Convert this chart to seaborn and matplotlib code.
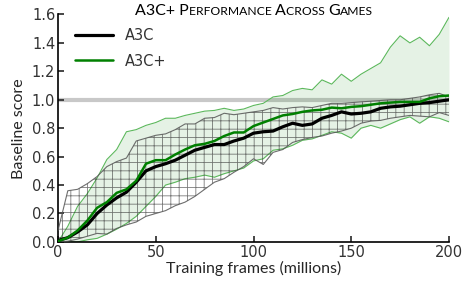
import numpy as np
import pandas as pd
import matplotlib
matplotlib.use('Agg')
import matplotlib.pyplot as plt
import seaborn as sns
from matplotlib.offsetbox import TextArea, HPacker, AnchoredOffsetbox

# Training frames (millions), sampled every 5M
frames = np.arange(0, 201, 5)

a3c_mean = [0.01, 0.03, 0.07, 0.12, 0.20, 0.26, 0.31, 0.35, 0.42, 0.50,
            0.53, 0.55, 0.575, 0.61, 0.645, 0.665, 0.685, 0.685, 0.71, 0.73,
            0.765, 0.775, 0.78, 0.81, 0.835, 0.82, 0.83, 0.87, 0.89, 0.915,
            0.90, 0.905, 0.915, 0.94, 0.95, 0.955, 0.965, 0.975, 0.98, 0.99, 1.0]
a3c_low = [0.0, 0.005, 0.02, 0.04, 0.06, 0.055, 0.095, 0.12, 0.14, 0.18,
           0.20, 0.22, 0.255, 0.28, 0.32, 0.37, 0.42, 0.445, 0.49, 0.53,
           0.585, 0.545, 0.63, 0.65, 0.70, 0.72, 0.735, 0.745, 0.765, 0.78,
           0.80, 0.835, 0.85, 0.855, 0.87, 0.88, 0.89, 0.885, 0.88, 0.91, 0.89]
a3c_high = [0.08, 0.36, 0.37, 0.41, 0.46, 0.53, 0.565, 0.59, 0.71, 0.73,
            0.75, 0.76, 0.79, 0.83, 0.83, 0.87, 0.875, 0.905, 0.895, 0.905,
            0.915, 0.925, 0.945, 0.935, 0.945, 0.95, 0.945, 0.96, 0.975, 0.975,
            0.98, 0.985, 0.99, 0.995, 1.0, 1.0, 1.01, 1.02, 1.035, 1.045, 1.02]

a3cp_mean = [0.005, 0.03, 0.08, 0.15, 0.24, 0.28, 0.345, 0.37, 0.43, 0.55,
             0.575, 0.575, 0.615, 0.65, 0.68, 0.69, 0.71, 0.745, 0.77, 0.77,
             0.815, 0.84, 0.865, 0.89, 0.90, 0.915, 0.925, 0.93, 0.945, 0.94,
             0.95, 0.955, 0.965, 0.975, 0.98, 0.985, 0.985, 0.985, 1.01, 1.025, 1.03]
a3cp_low = [0.0, 0.0, 0.0, 0.015, 0.025, 0.055, 0.09, 0.13, 0.18, 0.25,
            0.32, 0.40, 0.42, 0.445, 0.455, 0.47, 0.455, 0.48, 0.50, 0.52,
            0.57, 0.585, 0.645, 0.655, 0.68, 0.715, 0.725, 0.75, 0.775, 0.765,
            0.73, 0.80, 0.82, 0.80, 0.83, 0.86, 0.88, 0.835, 0.88, 0.87, 0.845]
a3cp_high = [0.0, 0.11, 0.25, 0.34, 0.45, 0.58, 0.65, 0.775, 0.79, 0.82,
             0.84, 0.87, 0.87, 0.89, 0.905, 0.92, 0.925, 0.94, 0.925, 0.935,
             0.96, 0.975, 1.02, 1.03, 1.065, 1.08, 1.07, 1.14, 1.11, 1.18,
             1.13, 1.18, 1.22, 1.26, 1.37, 1.45, 1.40, 1.44, 1.38, 1.46, 1.58]

x_ticks = [0, 50, 100, 150, 200]
y_ticks = [0.0, 0.2, 0.4, 0.6, 0.8, 1.0, 1.2, 1.4, 1.6]

sns.set_style('ticks')
plt.rcParams['font.family'] = ['DejaVu Sans']
plt.rcParams['hatch.linewidth'] = 0.6

df = pd.DataFrame({'frames': frames, 'A3C': a3c_mean, 'A3C+': a3cp_mean})

fig = plt.figure(figsize=(4.66, 2.88), dpi=100)
ax = fig.add_axes([0.1245, 0.16, 0.839, 0.7897])

# reference line at baseline 1.0
ax.axhline(1.0, color='#c8c8c8', lw=3, zorder=0)

# A3C+ band: light green fill
ax.fill_between(frames, a3cp_low, a3cp_high, color='green', alpha=0.1, lw=0, zorder=1)
ax.plot(frames, a3cp_low, color='#5cb85c', lw=0.8, zorder=2)
ax.plot(frames, a3cp_high, color='#5cb85c', lw=0.8, zorder=2)

# A3C band: hatched grid
ax.fill_between(frames, a3c_low, a3c_high, facecolor='none',
                edgecolor=(0.2, 0.2, 0.2, 0.65), hatch='++', lw=0, zorder=2)
ax.plot(frames, a3c_low, color='#555555', lw=0.8, alpha=0.85, zorder=3)
ax.plot(frames, a3c_high, color='#555555', lw=0.8, alpha=0.85, zorder=3)

sns.lineplot(data=df, x='frames', y='A3C', color='black', lw=2.3, label='A3C', ax=ax, zorder=5)
sns.lineplot(data=df, x='frames', y='A3C+', color='green', lw=1.8, label='A3C+', ax=ax, zorder=6)

ax.set_xlim(0, 200)
ax.set_ylim(0, 1.6)
ax.set_xticks(x_ticks)
ax.set_yticks(y_ticks)
ax.set_yticklabels([f'{v:.1f}' for v in y_ticks])
ax.tick_params(direction='in', length=4, width=1.2, labelsize=10.5, labelcolor='#333333', pad=2)
for side in ['top', 'right']:
    ax.spines[side].set_visible(False)
for side in ['left', 'bottom']:
    ax.spines[side].set_linewidth(1.2)
    ax.spines[side].set_color('black')

ax.set_xlabel('Training frames (millions)', fontsize=11.5, family='Lato', labelpad=1)
ax.set_ylabel('Baseline score', fontsize=11.5, family='Lato', labelpad=4)

leg = ax.legend(loc='upper left', frameon=False, fontsize=10.5, handlelength=2.6,
                bbox_to_anchor=(0.01, 1.0), labelspacing=0.75)
for t in leg.get_texts():
    t.set_color('#333333')

# small-caps title built from pieces
parts = [('A3C+ P', 11.5), ('ERFORMANCE ', 8.7), ('A', 11.5), ('CROSS ', 8.7),
         ('G', 11.5), ('AMES', 8.7)]
boxes = [TextArea(t, textprops=dict(size=s, family='Lato', color='black')) for t, s in parts]
pack = HPacker(children=boxes, align='baseline', pad=0, sep=0)
title = AnchoredOffsetbox(loc='upper center', child=pack, pad=0, frameon=False,
                          bbox_to_anchor=(0.545, 0.985), bbox_transform=fig.transFigure,
                          borderpad=0)
fig.add_artist(title)

plt.savefig('out.png', dpi=100)
